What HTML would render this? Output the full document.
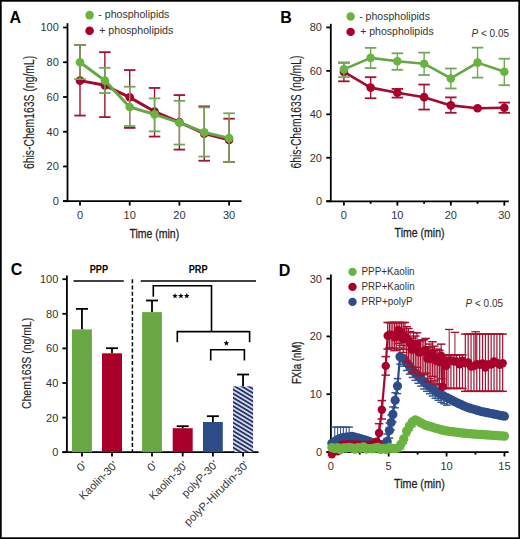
<!DOCTYPE html>
<html><head><meta charset="utf-8"><style>
html,body{margin:0;padding:0;background:#fff;}
body{width:520px;height:539px;overflow:hidden;}
svg{display:block;font-family:"Liberation Sans", sans-serif;}
</style></head><body>
<svg width="520" height="539" viewBox="0 0 520 539">
<rect x="0" y="0" width="520" height="539" fill="#fff"/>
<text x="9.6" y="23.1" font-size="16" fill="#000" font-weight="bold">A</text>
<circle cx="89.6" cy="15.1" r="4.3" fill="#6bb341"/>
<circle cx="89.6" cy="30.8" r="4.3" fill="#a8002b"/>
<text x="98.3" y="18.3" font-size="10.6" fill="#333" textLength="71.1" lengthAdjust="spacingAndGlyphs">- phospholipids</text>
<text x="99.2" y="33.7" font-size="10.6" fill="#333" textLength="74.1" lengthAdjust="spacingAndGlyphs">+ phospholipids</text>
<line x1="67.5" y1="23.2" x2="67.5" y2="202.1" stroke="#000" stroke-width="1.8"/>
<line x1="63.1" y1="201.2" x2="241.6" y2="201.2" stroke="#000" stroke-width="1.8"/>
<line x1="63.1" y1="201.2" x2="67.5" y2="201.2" stroke="#000" stroke-width="1.8"/>
<text x="58.8" y="205.1" font-size="11" fill="#333" text-anchor="end">0</text>
<line x1="63.1" y1="166.46" x2="67.5" y2="166.46" stroke="#000" stroke-width="1.8"/>
<text x="58.8" y="170.36" font-size="11" fill="#333" text-anchor="end">20</text>
<line x1="63.1" y1="131.72" x2="67.5" y2="131.72" stroke="#000" stroke-width="1.8"/>
<text x="58.8" y="135.62" font-size="11" fill="#333" text-anchor="end">40</text>
<line x1="63.1" y1="96.98" x2="67.5" y2="96.98" stroke="#000" stroke-width="1.8"/>
<text x="58.8" y="100.88" font-size="11" fill="#333" text-anchor="end">60</text>
<line x1="63.1" y1="62.24" x2="67.5" y2="62.24" stroke="#000" stroke-width="1.8"/>
<text x="58.8" y="66.14" font-size="11" fill="#333" text-anchor="end">80</text>
<line x1="63.1" y1="27.5" x2="67.5" y2="27.5" stroke="#000" stroke-width="1.8"/>
<text x="58.8" y="31.4" font-size="11" fill="#333" text-anchor="end">100</text>
<line x1="80" y1="201.2" x2="80" y2="205.6" stroke="#000" stroke-width="1.8"/>
<text x="80" y="219.4" font-size="11" fill="#333" text-anchor="middle">0</text>
<line x1="129.7" y1="201.2" x2="129.7" y2="205.6" stroke="#000" stroke-width="1.8"/>
<text x="129.7" y="219.4" font-size="11" fill="#333" text-anchor="middle">10</text>
<line x1="179.4" y1="201.2" x2="179.4" y2="205.6" stroke="#000" stroke-width="1.8"/>
<text x="179.4" y="219.4" font-size="11" fill="#333" text-anchor="middle">20</text>
<line x1="229.1" y1="201.2" x2="229.1" y2="205.6" stroke="#000" stroke-width="1.8"/>
<text x="229.1" y="219.4" font-size="11" fill="#333" text-anchor="middle">30</text>
<text x="129.4" y="237.6" font-size="13.6" fill="#1e1e1e" textLength="49.8" lengthAdjust="spacingAndGlyphs" stroke="#1e1e1e" stroke-width="0.3">Time (min)</text>
<text x="33.5" y="169" font-size="14.3" fill="#1e1e1e" textLength="113.2" lengthAdjust="spacingAndGlyphs" transform="rotate(-90 33.5 169)" stroke="#1e1e1e" stroke-width="0.12">6his-Chem163S (ng/mL)</text>
<line x1="80" y1="115.57" x2="80" y2="45.04" stroke="#a3112f" stroke-width="1.4"/>
<line x1="74.25" y1="115.57" x2="85.75" y2="115.57" stroke="#a3112f" stroke-width="1.8"/>
<line x1="74.25" y1="45.04" x2="85.75" y2="45.04" stroke="#a3112f" stroke-width="1.8"/>
<line x1="104.85" y1="117.13" x2="104.85" y2="52.17" stroke="#a3112f" stroke-width="1.4"/>
<line x1="99.1" y1="117.13" x2="110.6" y2="117.13" stroke="#a3112f" stroke-width="1.8"/>
<line x1="99.1" y1="52.17" x2="110.6" y2="52.17" stroke="#a3112f" stroke-width="1.8"/>
<line x1="129.7" y1="127.9" x2="129.7" y2="70.06" stroke="#a3112f" stroke-width="1.4"/>
<line x1="123.95" y1="127.9" x2="135.45" y2="127.9" stroke="#a3112f" stroke-width="1.8"/>
<line x1="123.95" y1="70.06" x2="135.45" y2="70.06" stroke="#a3112f" stroke-width="1.8"/>
<line x1="154.55" y1="136.58" x2="154.55" y2="87.95" stroke="#a3112f" stroke-width="1.4"/>
<line x1="148.8" y1="136.58" x2="160.3" y2="136.58" stroke="#a3112f" stroke-width="1.8"/>
<line x1="148.8" y1="87.95" x2="160.3" y2="87.95" stroke="#a3112f" stroke-width="1.8"/>
<line x1="179.4" y1="149.61" x2="179.4" y2="95.07" stroke="#a3112f" stroke-width="1.4"/>
<line x1="173.65" y1="149.61" x2="185.15" y2="149.61" stroke="#a3112f" stroke-width="1.8"/>
<line x1="173.65" y1="95.07" x2="185.15" y2="95.07" stroke="#a3112f" stroke-width="1.8"/>
<line x1="204.25" y1="160.73" x2="204.25" y2="106.36" stroke="#a3112f" stroke-width="1.4"/>
<line x1="198.5" y1="160.73" x2="210" y2="160.73" stroke="#a3112f" stroke-width="1.8"/>
<line x1="198.5" y1="106.36" x2="210" y2="106.36" stroke="#a3112f" stroke-width="1.8"/>
<line x1="229.1" y1="161.94" x2="229.1" y2="118.69" stroke="#a3112f" stroke-width="1.4"/>
<line x1="223.35" y1="161.94" x2="234.85" y2="161.94" stroke="#a3112f" stroke-width="1.8"/>
<line x1="223.35" y1="118.69" x2="234.85" y2="118.69" stroke="#a3112f" stroke-width="1.8"/>
<polyline points="80,80.65 104.85,85.34 129.7,97.33 154.55,111.57 179.4,122.17 204.25,133.63 229.1,139.88" fill="none" stroke="#a30a2e" stroke-width="3" stroke-linejoin="round" stroke-linecap="round"/>
<circle cx="80" cy="80.65" r="4.3" fill="#a8002b"/>
<circle cx="104.85" cy="85.34" r="4.3" fill="#a8002b"/>
<circle cx="129.7" cy="97.33" r="4.3" fill="#a8002b"/>
<circle cx="154.55" cy="111.57" r="4.3" fill="#a8002b"/>
<circle cx="179.4" cy="122.17" r="4.3" fill="#a8002b"/>
<circle cx="204.25" cy="133.63" r="4.3" fill="#a8002b"/>
<circle cx="229.1" cy="139.88" r="4.3" fill="#a8002b"/>
<line x1="80" y1="79.09" x2="80" y2="45.04" stroke="#72a65a" stroke-width="1.4"/>
<line x1="74.25" y1="79.09" x2="85.75" y2="79.09" stroke="#72a65a" stroke-width="1.8"/>
<line x1="74.25" y1="45.04" x2="85.75" y2="45.04" stroke="#72a65a" stroke-width="1.8"/>
<line x1="104.85" y1="92.98" x2="104.85" y2="67.8" stroke="#72a65a" stroke-width="1.4"/>
<line x1="99.1" y1="92.98" x2="110.6" y2="92.98" stroke="#72a65a" stroke-width="1.8"/>
<line x1="99.1" y1="67.8" x2="110.6" y2="67.8" stroke="#72a65a" stroke-width="1.8"/>
<line x1="129.7" y1="125.99" x2="129.7" y2="86.73" stroke="#72a65a" stroke-width="1.4"/>
<line x1="123.95" y1="125.99" x2="135.45" y2="125.99" stroke="#72a65a" stroke-width="1.8"/>
<line x1="123.95" y1="86.73" x2="135.45" y2="86.73" stroke="#72a65a" stroke-width="1.8"/>
<line x1="154.55" y1="131.37" x2="154.55" y2="98.37" stroke="#72a65a" stroke-width="1.4"/>
<line x1="148.8" y1="131.37" x2="160.3" y2="131.37" stroke="#72a65a" stroke-width="1.8"/>
<line x1="148.8" y1="98.37" x2="160.3" y2="98.37" stroke="#72a65a" stroke-width="1.8"/>
<line x1="179.4" y1="144.57" x2="179.4" y2="100.8" stroke="#72a65a" stroke-width="1.4"/>
<line x1="173.65" y1="144.57" x2="185.15" y2="144.57" stroke="#72a65a" stroke-width="1.8"/>
<line x1="173.65" y1="100.8" x2="185.15" y2="100.8" stroke="#72a65a" stroke-width="1.8"/>
<line x1="204.25" y1="156.56" x2="204.25" y2="107.4" stroke="#72a65a" stroke-width="1.4"/>
<line x1="198.5" y1="156.56" x2="210" y2="156.56" stroke="#72a65a" stroke-width="1.8"/>
<line x1="198.5" y1="107.4" x2="210" y2="107.4" stroke="#72a65a" stroke-width="1.8"/>
<line x1="229.1" y1="161.94" x2="229.1" y2="113.31" stroke="#72a65a" stroke-width="1.4"/>
<line x1="223.35" y1="161.94" x2="234.85" y2="161.94" stroke="#72a65a" stroke-width="1.8"/>
<line x1="223.35" y1="113.31" x2="234.85" y2="113.31" stroke="#72a65a" stroke-width="1.8"/>
<polyline points="80,62.24 104.85,80.65 129.7,107.05 154.55,114.35 179.4,122.69 204.25,132.41 229.1,138.15" fill="none" stroke="#64a843" stroke-width="3" stroke-linejoin="round" stroke-linecap="round"/>
<circle cx="80" cy="62.24" r="4.3" fill="#6bb341"/>
<circle cx="104.85" cy="80.65" r="4.3" fill="#6bb341"/>
<circle cx="129.7" cy="107.05" r="4.3" fill="#6bb341"/>
<circle cx="154.55" cy="114.35" r="4.3" fill="#6bb341"/>
<circle cx="179.4" cy="122.69" r="4.3" fill="#6bb341"/>
<circle cx="204.25" cy="132.41" r="4.3" fill="#6bb341"/>
<circle cx="229.1" cy="138.15" r="4.3" fill="#6bb341"/>
<text x="280.2" y="23" font-size="16" fill="#000" font-weight="bold">B</text>
<circle cx="350.6" cy="16.5" r="4.2" fill="#6bb341"/>
<circle cx="350.6" cy="31.9" r="4.2" fill="#a8002b"/>
<text x="359.2" y="20" font-size="10.6" fill="#333" textLength="70.8" lengthAdjust="spacingAndGlyphs">- phospholipids</text>
<text x="360.2" y="35.4" font-size="10.6" fill="#333" textLength="73.5" lengthAdjust="spacingAndGlyphs">+ phospholipids</text>
<text x="471.5" y="36.7" font-size="10.5" fill="#333" textLength="37.5" lengthAdjust="spacingAndGlyphs"><tspan font-style="italic">P</tspan> &lt; 0.05</text>
<line x1="330.8" y1="23.8" x2="330.8" y2="202.1" stroke="#000" stroke-width="1.8"/>
<line x1="326.3" y1="201.3" x2="508.8" y2="201.3" stroke="#000" stroke-width="1.8"/>
<line x1="326.3" y1="201.2" x2="330.8" y2="201.2" stroke="#000" stroke-width="1.8"/>
<text x="322" y="205.1" font-size="11" fill="#333" text-anchor="end">0</text>
<line x1="326.3" y1="157.76" x2="330.8" y2="157.76" stroke="#000" stroke-width="1.8"/>
<text x="322" y="161.66" font-size="11" fill="#333" text-anchor="end">20</text>
<line x1="326.3" y1="114.32" x2="330.8" y2="114.32" stroke="#000" stroke-width="1.8"/>
<text x="322" y="118.22" font-size="11" fill="#333" text-anchor="end">40</text>
<line x1="326.3" y1="70.88" x2="330.8" y2="70.88" stroke="#000" stroke-width="1.8"/>
<text x="322" y="74.78" font-size="11" fill="#333" text-anchor="end">60</text>
<line x1="326.3" y1="27.44" x2="330.8" y2="27.44" stroke="#000" stroke-width="1.8"/>
<text x="322" y="31.34" font-size="11" fill="#333" text-anchor="end">80</text>
<line x1="343.9" y1="201.3" x2="343.9" y2="205.6" stroke="#000" stroke-width="1.8"/>
<text x="343.9" y="219.4" font-size="11" fill="#333" text-anchor="middle">0</text>
<line x1="370.63" y1="201.3" x2="370.63" y2="203.8" stroke="#000" stroke-width="1.8"/>
<line x1="397.37" y1="201.3" x2="397.37" y2="205.6" stroke="#000" stroke-width="1.8"/>
<text x="397.37" y="219.4" font-size="11" fill="#333" text-anchor="middle">10</text>
<line x1="424.11" y1="201.3" x2="424.11" y2="203.8" stroke="#000" stroke-width="1.8"/>
<line x1="450.84" y1="201.3" x2="450.84" y2="205.6" stroke="#000" stroke-width="1.8"/>
<text x="450.84" y="219.4" font-size="11" fill="#333" text-anchor="middle">20</text>
<line x1="477.57" y1="201.3" x2="477.57" y2="203.8" stroke="#000" stroke-width="1.8"/>
<line x1="504.31" y1="201.3" x2="504.31" y2="205.6" stroke="#000" stroke-width="1.8"/>
<text x="504.31" y="219.4" font-size="11" fill="#333" text-anchor="middle">30</text>
<text x="394.6" y="237.4" font-size="13.6" fill="#1e1e1e" textLength="49.9" lengthAdjust="spacingAndGlyphs" stroke="#1e1e1e" stroke-width="0.3">Time (min)</text>
<text x="301.3" y="168.6" font-size="14.3" fill="#1e1e1e" textLength="113" lengthAdjust="spacingAndGlyphs" transform="rotate(-90 301.3 168.6)" stroke="#1e1e1e" stroke-width="0.12">6his-Chem163S (ng/mL)</text>
<line x1="343.9" y1="81.31" x2="343.9" y2="62.63" stroke="#a3112f" stroke-width="1.4"/>
<line x1="338.15" y1="81.31" x2="349.65" y2="81.31" stroke="#a3112f" stroke-width="1.8"/>
<line x1="338.15" y1="62.63" x2="349.65" y2="62.63" stroke="#a3112f" stroke-width="1.8"/>
<line x1="370.63" y1="98.25" x2="370.63" y2="77.18" stroke="#a3112f" stroke-width="1.4"/>
<line x1="364.88" y1="98.25" x2="376.38" y2="98.25" stroke="#a3112f" stroke-width="1.8"/>
<line x1="364.88" y1="77.18" x2="376.38" y2="77.18" stroke="#a3112f" stroke-width="1.8"/>
<line x1="397.37" y1="97.6" x2="397.37" y2="88.91" stroke="#a3112f" stroke-width="1.4"/>
<line x1="391.62" y1="97.6" x2="403.12" y2="97.6" stroke="#a3112f" stroke-width="1.8"/>
<line x1="391.62" y1="88.91" x2="403.12" y2="88.91" stroke="#a3112f" stroke-width="1.8"/>
<line x1="424.11" y1="109.54" x2="424.11" y2="84.56" stroke="#a3112f" stroke-width="1.4"/>
<line x1="418.36" y1="109.54" x2="429.86" y2="109.54" stroke="#a3112f" stroke-width="1.8"/>
<line x1="418.36" y1="84.56" x2="429.86" y2="84.56" stroke="#a3112f" stroke-width="1.8"/>
<line x1="450.84" y1="112.8" x2="450.84" y2="97.38" stroke="#a3112f" stroke-width="1.4"/>
<line x1="445.09" y1="112.8" x2="456.59" y2="112.8" stroke="#a3112f" stroke-width="1.8"/>
<line x1="445.09" y1="97.38" x2="456.59" y2="97.38" stroke="#a3112f" stroke-width="1.8"/>
<line x1="477.57" y1="108.24" x2="477.57" y2="108.24" stroke="#a3112f" stroke-width="1.4"/>
<line x1="471.82" y1="108.24" x2="483.32" y2="108.24" stroke="#a3112f" stroke-width="1.8"/>
<line x1="471.82" y1="108.24" x2="483.32" y2="108.24" stroke="#a3112f" stroke-width="1.8"/>
<line x1="504.31" y1="112.8" x2="504.31" y2="102.59" stroke="#a3112f" stroke-width="1.4"/>
<line x1="498.56" y1="112.8" x2="510.06" y2="112.8" stroke="#a3112f" stroke-width="1.8"/>
<line x1="498.56" y1="102.59" x2="510.06" y2="102.59" stroke="#a3112f" stroke-width="1.8"/>
<polyline points="343.9,71.97 370.63,87.6 397.37,92.82 424.11,97.16 450.84,105.41 477.57,108.24 504.31,107.8" fill="none" stroke="#a30a2e" stroke-width="2.6" stroke-linejoin="round" stroke-linecap="round"/>
<circle cx="343.9" cy="71.97" r="4.3" fill="#a8002b"/>
<circle cx="370.63" cy="87.6" r="4.3" fill="#a8002b"/>
<circle cx="397.37" cy="92.82" r="4.3" fill="#a8002b"/>
<circle cx="424.11" cy="97.16" r="4.3" fill="#a8002b"/>
<circle cx="450.84" cy="105.41" r="4.3" fill="#a8002b"/>
<circle cx="477.57" cy="108.24" r="4.3" fill="#a8002b"/>
<circle cx="504.31" cy="107.8" r="4.3" fill="#a8002b"/>
<line x1="343.9" y1="77.18" x2="343.9" y2="62.63" stroke="#72a65a" stroke-width="1.4"/>
<line x1="338.15" y1="77.18" x2="349.65" y2="77.18" stroke="#72a65a" stroke-width="1.8"/>
<line x1="338.15" y1="62.63" x2="349.65" y2="62.63" stroke="#72a65a" stroke-width="1.8"/>
<line x1="370.63" y1="68.06" x2="370.63" y2="47.86" stroke="#72a65a" stroke-width="1.4"/>
<line x1="364.88" y1="68.06" x2="376.38" y2="68.06" stroke="#72a65a" stroke-width="1.8"/>
<line x1="364.88" y1="47.86" x2="376.38" y2="47.86" stroke="#72a65a" stroke-width="1.8"/>
<line x1="397.37" y1="69.79" x2="397.37" y2="53.29" stroke="#72a65a" stroke-width="1.4"/>
<line x1="391.62" y1="69.79" x2="403.12" y2="69.79" stroke="#72a65a" stroke-width="1.8"/>
<line x1="391.62" y1="53.29" x2="403.12" y2="53.29" stroke="#72a65a" stroke-width="1.8"/>
<line x1="424.11" y1="75.01" x2="424.11" y2="52.64" stroke="#72a65a" stroke-width="1.4"/>
<line x1="418.36" y1="75.01" x2="429.86" y2="75.01" stroke="#72a65a" stroke-width="1.8"/>
<line x1="418.36" y1="52.64" x2="429.86" y2="52.64" stroke="#72a65a" stroke-width="1.8"/>
<line x1="450.84" y1="88.47" x2="450.84" y2="68.49" stroke="#72a65a" stroke-width="1.4"/>
<line x1="445.09" y1="88.47" x2="456.59" y2="88.47" stroke="#72a65a" stroke-width="1.8"/>
<line x1="445.09" y1="68.49" x2="456.59" y2="68.49" stroke="#72a65a" stroke-width="1.8"/>
<line x1="477.57" y1="77.61" x2="477.57" y2="47.64" stroke="#72a65a" stroke-width="1.4"/>
<line x1="471.82" y1="77.61" x2="483.32" y2="77.61" stroke="#72a65a" stroke-width="1.8"/>
<line x1="471.82" y1="47.64" x2="483.32" y2="47.64" stroke="#72a65a" stroke-width="1.8"/>
<line x1="504.31" y1="85.22" x2="504.31" y2="58.72" stroke="#72a65a" stroke-width="1.4"/>
<line x1="498.56" y1="85.22" x2="510.06" y2="85.22" stroke="#72a65a" stroke-width="1.8"/>
<line x1="498.56" y1="58.72" x2="510.06" y2="58.72" stroke="#72a65a" stroke-width="1.8"/>
<polyline points="343.9,69.36 370.63,57.85 397.37,61.32 424.11,63.71 450.84,78.48 477.57,62.63 504.31,71.75" fill="none" stroke="#64a843" stroke-width="2.6" stroke-linejoin="round" stroke-linecap="round"/>
<circle cx="343.9" cy="69.36" r="4.3" fill="#6bb341"/>
<circle cx="370.63" cy="57.85" r="4.3" fill="#6bb341"/>
<circle cx="397.37" cy="61.32" r="4.3" fill="#6bb341"/>
<circle cx="424.11" cy="63.71" r="4.3" fill="#6bb341"/>
<circle cx="450.84" cy="78.48" r="4.3" fill="#6bb341"/>
<circle cx="477.57" cy="62.63" r="4.3" fill="#6bb341"/>
<circle cx="504.31" cy="71.75" r="4.3" fill="#6bb341"/>
<text x="10.8" y="275.3" font-size="16" fill="#000" font-weight="bold">C</text>
<text x="89.7" y="272.5" font-size="10.3" fill="#000" textLength="18.4" lengthAdjust="spacingAndGlyphs" font-weight="bold">PPP</text>
<text x="188.7" y="272.5" font-size="10.3" fill="#000" textLength="18.9" lengthAdjust="spacingAndGlyphs" font-weight="bold">PRP</text>
<line x1="73.5" y1="281.1" x2="123.8" y2="281.1" stroke="#000" stroke-width="1.5"/>
<line x1="140.8" y1="281.1" x2="256" y2="281.1" stroke="#000" stroke-width="1.5"/>
<line x1="132.4" y1="279.2" x2="132.4" y2="452.3" stroke="#000" stroke-width="1.5" stroke-dasharray="4,2.3"/>
<line x1="66.9" y1="275.5" x2="66.9" y2="453.1" stroke="#000" stroke-width="1.8"/>
<line x1="62.4" y1="452.1" x2="258.5" y2="452.1" stroke="#000" stroke-width="1.8"/>
<line x1="62.4" y1="452.2" x2="66.9" y2="452.2" stroke="#000" stroke-width="1.8"/>
<text x="58.3" y="456.1" font-size="11" fill="#333" text-anchor="end">0</text>
<line x1="62.4" y1="417.6" x2="66.9" y2="417.6" stroke="#000" stroke-width="1.8"/>
<text x="58.3" y="421.5" font-size="11" fill="#333" text-anchor="end">20</text>
<line x1="62.4" y1="383" x2="66.9" y2="383" stroke="#000" stroke-width="1.8"/>
<text x="58.3" y="386.9" font-size="11" fill="#333" text-anchor="end">40</text>
<line x1="62.4" y1="348.4" x2="66.9" y2="348.4" stroke="#000" stroke-width="1.8"/>
<text x="58.3" y="352.3" font-size="11" fill="#333" text-anchor="end">60</text>
<line x1="62.4" y1="313.8" x2="66.9" y2="313.8" stroke="#000" stroke-width="1.8"/>
<text x="58.3" y="317.7" font-size="11" fill="#333" text-anchor="end">80</text>
<line x1="62.4" y1="279.2" x2="66.9" y2="279.2" stroke="#000" stroke-width="1.8"/>
<text x="58.3" y="283.1" font-size="11" fill="#333" text-anchor="end">100</text>
<text x="31" y="409" font-size="13.2" fill="#1e1e1e" textLength="91.2" lengthAdjust="spacingAndGlyphs" transform="rotate(-90 31 409)" stroke="#1e1e1e" stroke-width="0.12">Chem163S (ng/mL)</text>
<defs><pattern id="hatch" patternUnits="userSpaceOnUse" width="10" height="3.56" patternTransform="rotate(31 233 386)"><rect width="10" height="3.56" fill="#d2d8f2"/><rect width="10" height="1.65" fill="#1c2754"/></pattern></defs>
<line x1="81.95" y1="308.9" x2="81.95" y2="329.4" stroke="#000" stroke-width="1.8"/>
<line x1="75.95" y1="308.9" x2="87.95" y2="308.9" stroke="#000" stroke-width="1.8"/>
<rect x="72" y="329.4" width="19.9" height="122.8" fill="#69a744"/>
<line x1="112" y1="348.2" x2="112" y2="353.3" stroke="#000" stroke-width="1.8"/>
<line x1="106" y1="348.2" x2="118" y2="348.2" stroke="#000" stroke-width="1.8"/>
<rect x="102" y="353.3" width="20" height="98.9" fill="#a8002b"/>
<line x1="152" y1="300.5" x2="152" y2="312.1" stroke="#000" stroke-width="1.8"/>
<line x1="146" y1="300.5" x2="158" y2="300.5" stroke="#000" stroke-width="1.8"/>
<rect x="142.1" y="312.1" width="19.8" height="140.1" fill="#69a744"/>
<line x1="182.7" y1="426.2" x2="182.7" y2="428.2" stroke="#000" stroke-width="1.8"/>
<line x1="176.7" y1="426.2" x2="188.7" y2="426.2" stroke="#000" stroke-width="1.8"/>
<rect x="172.7" y="428.2" width="20" height="24" fill="#a8002b"/>
<line x1="212.9" y1="416.2" x2="212.9" y2="422" stroke="#000" stroke-width="1.8"/>
<line x1="206.9" y1="416.2" x2="218.9" y2="416.2" stroke="#000" stroke-width="1.8"/>
<rect x="203" y="422" width="19.8" height="30.2" fill="#2d4c88"/>
<line x1="243.05" y1="374.5" x2="243.05" y2="386.3" stroke="#000" stroke-width="1.8"/>
<line x1="237.05" y1="374.5" x2="249.05" y2="374.5" stroke="#000" stroke-width="1.8"/>
<rect x="233" y="386.3" width="20.1" height="65.9" fill="url(#hatch)"/>
<line x1="81.95" y1="452.2" x2="81.95" y2="456.4" stroke="#000" stroke-width="1.8"/>
<line x1="112" y1="452.2" x2="112" y2="456.4" stroke="#000" stroke-width="1.8"/>
<line x1="152" y1="452.2" x2="152" y2="456.4" stroke="#000" stroke-width="1.8"/>
<line x1="182.7" y1="452.2" x2="182.7" y2="456.4" stroke="#000" stroke-width="1.8"/>
<line x1="212.9" y1="452.2" x2="212.9" y2="456.4" stroke="#000" stroke-width="1.8"/>
<line x1="243.05" y1="452.2" x2="243.05" y2="456.4" stroke="#000" stroke-width="1.8"/>
<polyline points="153.3,296.7 153.3,285.7 211.5,285.7 211.5,331.6" fill="none" stroke="#000" stroke-width="1.6"/>
<polyline points="177.3,342.3 177.3,331.6 249.6,331.6 249.6,342.3" fill="none" stroke="#000" stroke-width="1.6"/>
<polyline points="210.7,360.4 210.7,349.7 244.4,349.7 244.4,360.4" fill="none" stroke="#000" stroke-width="1.6"/>
<polygon points="175,292.9 175.74,294.88 177.85,294.97 176.2,296.29 176.76,298.33 175,297.16 173.24,298.33 173.8,296.29 172.15,294.97 174.26,294.88" fill="#000"/>
<polygon points="180.9,292.9 181.64,294.88 183.75,294.97 182.1,296.29 182.66,298.33 180.9,297.16 179.14,298.33 179.7,296.29 178.05,294.97 180.16,294.88" fill="#000"/>
<polygon points="186.8,292.9 187.54,294.88 189.65,294.97 188,296.29 188.56,298.33 186.8,297.16 185.04,298.33 185.6,296.29 183.95,294.97 186.06,294.88" fill="#000"/>
<polygon points="226.4,340.3 227.14,342.28 229.25,342.37 227.6,343.69 228.16,345.73 226.4,344.56 224.64,345.73 225.2,343.69 223.55,342.37 225.66,342.28" fill="#000"/>
<text x="87.6" y="465.5" font-size="11" fill="#333" textLength="9.5" lengthAdjust="spacingAndGlyphs" text-anchor="end" transform="rotate(-45 87.6 465.5)">0'</text>
<text x="118.2" y="465.8" font-size="11" fill="#333" textLength="49" lengthAdjust="spacingAndGlyphs" text-anchor="end" transform="rotate(-45 118.2 465.8)">Kaolin-30'</text>
<text x="158.3" y="465.5" font-size="11" fill="#333" textLength="9.5" lengthAdjust="spacingAndGlyphs" text-anchor="end" transform="rotate(-45 158.3 465.5)">0'</text>
<text x="188.2" y="465.8" font-size="11" fill="#333" textLength="49" lengthAdjust="spacingAndGlyphs" text-anchor="end" transform="rotate(-45 188.2 465.8)">Kaolin-30'</text>
<text x="218.8" y="465.1" font-size="11" fill="#333" textLength="46.4" lengthAdjust="spacingAndGlyphs" text-anchor="end" transform="rotate(-45 218.8 465.1)">polyP-30'</text>
<text x="249.4" y="465.6" font-size="11" fill="#333" textLength="86" lengthAdjust="spacingAndGlyphs" text-anchor="end" transform="rotate(-45 249.4 465.6)">polyP-Hirudin-30'</text>
<text x="278.8" y="275.6" font-size="16" fill="#000" font-weight="bold">D</text>
<circle cx="352.5" cy="271.9" r="4.2" fill="#6bb341"/>
<circle cx="352.5" cy="286.9" r="4.2" fill="#a8002b"/>
<circle cx="352.5" cy="301.9" r="4.2" fill="#2d4c88"/>
<text x="361.5" y="275" font-size="10" fill="#333" textLength="53.1" lengthAdjust="spacingAndGlyphs">PPP+Kaolin</text>
<text x="361.5" y="290.2" font-size="10" fill="#333" textLength="53.1" lengthAdjust="spacingAndGlyphs">PRP+Kaolin</text>
<text x="361.5" y="305.2" font-size="10" fill="#333" textLength="51.2" lengthAdjust="spacingAndGlyphs">PRP+polyP</text>
<text x="465.6" y="306.7" font-size="10.5" fill="#333" textLength="37.4" lengthAdjust="spacingAndGlyphs"><tspan font-style="italic">P</tspan> &lt; 0.05</text>
<line x1="330.9" y1="274.4" x2="330.9" y2="453" stroke="#000" stroke-width="1.8"/>
<line x1="326.5" y1="452.1" x2="508.7" y2="452.1" stroke="#000" stroke-width="1.8"/>
<line x1="326.5" y1="452" x2="330.9" y2="452" stroke="#000" stroke-width="1.8"/>
<text x="322" y="455.9" font-size="11" fill="#333" text-anchor="end">0</text>
<line x1="326.5" y1="394.2" x2="330.9" y2="394.2" stroke="#000" stroke-width="1.8"/>
<text x="322" y="398.1" font-size="11" fill="#333" text-anchor="end">10</text>
<line x1="326.5" y1="336.4" x2="330.9" y2="336.4" stroke="#000" stroke-width="1.8"/>
<text x="322" y="340.3" font-size="11" fill="#333" text-anchor="end">20</text>
<line x1="326.5" y1="278.6" x2="330.9" y2="278.6" stroke="#000" stroke-width="1.8"/>
<text x="322" y="282.5" font-size="11" fill="#333" text-anchor="end">30</text>
<line x1="330.8" y1="452.1" x2="330.8" y2="456.5" stroke="#000" stroke-width="1.8"/>
<text x="330.8" y="470" font-size="11" fill="#333" text-anchor="middle">0</text>
<line x1="359.74" y1="452.1" x2="359.74" y2="454.6" stroke="#000" stroke-width="1.8"/>
<line x1="388.68" y1="452.1" x2="388.68" y2="456.5" stroke="#000" stroke-width="1.8"/>
<text x="388.68" y="470" font-size="11" fill="#333" text-anchor="middle">5</text>
<line x1="417.61" y1="452.1" x2="417.61" y2="454.6" stroke="#000" stroke-width="1.8"/>
<line x1="446.55" y1="452.1" x2="446.55" y2="456.5" stroke="#000" stroke-width="1.8"/>
<text x="446.55" y="470" font-size="11" fill="#333" text-anchor="middle">10</text>
<line x1="475.49" y1="452.1" x2="475.49" y2="454.6" stroke="#000" stroke-width="1.8"/>
<line x1="504.43" y1="452.1" x2="504.43" y2="456.5" stroke="#000" stroke-width="1.8"/>
<text x="504.43" y="470" font-size="11" fill="#333" text-anchor="middle">15</text>
<text x="394" y="488.2" font-size="13.6" fill="#1e1e1e" textLength="50.7" lengthAdjust="spacingAndGlyphs" stroke="#1e1e1e" stroke-width="0.3">Time (min)</text>
<text x="301.4" y="384" font-size="12.3" fill="#1e1e1e" textLength="42.4" lengthAdjust="spacingAndGlyphs" transform="rotate(-90 301.4 384)" stroke="#1e1e1e" stroke-width="0.3">FXIa (nM)</text>
<line x1="334.77" y1="446.61" x2="334.77" y2="427.15" stroke="#3a5590" stroke-width="1.1"/>
<line x1="331.02" y1="446.61" x2="338.52" y2="446.61" stroke="#3a5590" stroke-width="1.5"/>
<line x1="331.02" y1="427.15" x2="338.52" y2="427.15" stroke="#3a5590" stroke-width="1.5"/>
<line x1="337.65" y1="444.68" x2="337.65" y2="427.15" stroke="#3a5590" stroke-width="1.1"/>
<line x1="333.9" y1="444.68" x2="341.4" y2="444.68" stroke="#3a5590" stroke-width="1.5"/>
<line x1="333.9" y1="427.15" x2="341.4" y2="427.15" stroke="#3a5590" stroke-width="1.5"/>
<line x1="340.52" y1="443.47" x2="340.52" y2="427.15" stroke="#3a5590" stroke-width="1.1"/>
<line x1="336.77" y1="443.47" x2="344.27" y2="443.47" stroke="#3a5590" stroke-width="1.5"/>
<line x1="336.77" y1="427.15" x2="344.27" y2="427.15" stroke="#3a5590" stroke-width="1.5"/>
<line x1="343.4" y1="442.75" x2="343.4" y2="427.15" stroke="#3a5590" stroke-width="1.1"/>
<line x1="339.65" y1="442.75" x2="347.15" y2="442.75" stroke="#3a5590" stroke-width="1.5"/>
<line x1="339.65" y1="427.15" x2="347.15" y2="427.15" stroke="#3a5590" stroke-width="1.5"/>
<line x1="346.27" y1="442.37" x2="346.27" y2="427.15" stroke="#3a5590" stroke-width="1.1"/>
<line x1="342.52" y1="442.37" x2="350.02" y2="442.37" stroke="#3a5590" stroke-width="1.5"/>
<line x1="342.52" y1="427.15" x2="350.02" y2="427.15" stroke="#3a5590" stroke-width="1.5"/>
<line x1="349.15" y1="441.98" x2="349.15" y2="427.15" stroke="#3a5590" stroke-width="1.1"/>
<line x1="345.4" y1="441.98" x2="352.9" y2="441.98" stroke="#3a5590" stroke-width="1.5"/>
<line x1="345.4" y1="427.15" x2="352.9" y2="427.15" stroke="#3a5590" stroke-width="1.5"/>
<line x1="387.1" y1="449.11" x2="387.1" y2="434.08" stroke="#3a5590" stroke-width="1.1"/>
<line x1="383.35" y1="449.11" x2="390.85" y2="449.11" stroke="#3a5590" stroke-width="1.5"/>
<line x1="383.35" y1="434.08" x2="390.85" y2="434.08" stroke="#3a5590" stroke-width="1.5"/>
<line x1="389.4" y1="438.13" x2="389.4" y2="423.1" stroke="#3a5590" stroke-width="1.1"/>
<line x1="385.65" y1="438.13" x2="393.15" y2="438.13" stroke="#3a5590" stroke-width="1.5"/>
<line x1="385.65" y1="423.1" x2="393.15" y2="423.1" stroke="#3a5590" stroke-width="1.5"/>
<line x1="391.12" y1="430.04" x2="391.12" y2="415.01" stroke="#3a5590" stroke-width="1.1"/>
<line x1="387.38" y1="430.04" x2="394.88" y2="430.04" stroke="#3a5590" stroke-width="1.5"/>
<line x1="387.38" y1="415.01" x2="394.88" y2="415.01" stroke="#3a5590" stroke-width="1.5"/>
<line x1="392.85" y1="421.94" x2="392.85" y2="406.92" stroke="#3a5590" stroke-width="1.1"/>
<line x1="389.1" y1="421.94" x2="396.6" y2="421.94" stroke="#3a5590" stroke-width="1.5"/>
<line x1="389.1" y1="406.92" x2="396.6" y2="406.92" stroke="#3a5590" stroke-width="1.5"/>
<line x1="395.15" y1="407.78" x2="395.15" y2="392.75" stroke="#3a5590" stroke-width="1.1"/>
<line x1="391.4" y1="407.78" x2="398.9" y2="407.78" stroke="#3a5590" stroke-width="1.5"/>
<line x1="391.4" y1="392.75" x2="398.9" y2="392.75" stroke="#3a5590" stroke-width="1.5"/>
<line x1="397.45" y1="393.62" x2="397.45" y2="378.59" stroke="#3a5590" stroke-width="1.1"/>
<line x1="393.7" y1="393.62" x2="401.2" y2="393.62" stroke="#3a5590" stroke-width="1.5"/>
<line x1="393.7" y1="378.59" x2="401.2" y2="378.59" stroke="#3a5590" stroke-width="1.5"/>
<line x1="399.98" y1="364.14" x2="399.98" y2="349.12" stroke="#3a5590" stroke-width="1.1"/>
<line x1="396.23" y1="364.14" x2="403.73" y2="364.14" stroke="#3a5590" stroke-width="1.5"/>
<line x1="396.23" y1="349.12" x2="403.73" y2="349.12" stroke="#3a5590" stroke-width="1.5"/>
<line x1="403.77" y1="366.17" x2="403.77" y2="358.65" stroke="#3a5590" stroke-width="1.1"/>
<line x1="400.02" y1="366.17" x2="407.52" y2="366.17" stroke="#3a5590" stroke-width="1.5"/>
<line x1="406.65" y1="370.5" x2="406.65" y2="362.99" stroke="#3a5590" stroke-width="1.1"/>
<line x1="402.9" y1="370.5" x2="410.4" y2="370.5" stroke="#3a5590" stroke-width="1.5"/>
<line x1="409.52" y1="374.11" x2="409.52" y2="366.6" stroke="#3a5590" stroke-width="1.1"/>
<line x1="405.77" y1="374.11" x2="413.27" y2="374.11" stroke="#3a5590" stroke-width="1.5"/>
<line x1="412.4" y1="377.44" x2="412.4" y2="369.92" stroke="#3a5590" stroke-width="1.1"/>
<line x1="408.65" y1="377.44" x2="416.15" y2="377.44" stroke="#3a5590" stroke-width="1.5"/>
<line x1="415.27" y1="380.33" x2="415.27" y2="372.81" stroke="#3a5590" stroke-width="1.1"/>
<line x1="411.52" y1="380.33" x2="419.02" y2="380.33" stroke="#3a5590" stroke-width="1.5"/>
<line x1="418.15" y1="383.22" x2="418.15" y2="375.7" stroke="#3a5590" stroke-width="1.1"/>
<line x1="414.4" y1="383.22" x2="421.9" y2="383.22" stroke="#3a5590" stroke-width="1.5"/>
<line x1="421.02" y1="386.11" x2="421.02" y2="378.59" stroke="#3a5590" stroke-width="1.1"/>
<line x1="417.27" y1="386.11" x2="424.77" y2="386.11" stroke="#3a5590" stroke-width="1.5"/>
<line x1="423.9" y1="389" x2="423.9" y2="381.48" stroke="#3a5590" stroke-width="1.1"/>
<line x1="420.15" y1="389" x2="427.65" y2="389" stroke="#3a5590" stroke-width="1.5"/>
<line x1="426.77" y1="391.33" x2="426.77" y2="383.81" stroke="#3a5590" stroke-width="1.1"/>
<line x1="423.02" y1="391.33" x2="430.52" y2="391.33" stroke="#3a5590" stroke-width="1.5"/>
<line x1="429.65" y1="393.66" x2="429.65" y2="386.15" stroke="#3a5590" stroke-width="1.1"/>
<line x1="425.9" y1="393.66" x2="433.4" y2="393.66" stroke="#3a5590" stroke-width="1.5"/>
<line x1="432.52" y1="395.99" x2="432.52" y2="388.48" stroke="#3a5590" stroke-width="1.1"/>
<line x1="428.77" y1="395.99" x2="436.27" y2="395.99" stroke="#3a5590" stroke-width="1.5"/>
<line x1="435.4" y1="398.24" x2="435.4" y2="390.72" stroke="#3a5590" stroke-width="1.1"/>
<line x1="431.65" y1="398.24" x2="439.15" y2="398.24" stroke="#3a5590" stroke-width="1.5"/>
<line x1="438.27" y1="400.26" x2="438.27" y2="392.75" stroke="#3a5590" stroke-width="1.1"/>
<line x1="434.52" y1="400.26" x2="442.02" y2="400.26" stroke="#3a5590" stroke-width="1.5"/>
<line x1="441.15" y1="402.29" x2="441.15" y2="394.78" stroke="#3a5590" stroke-width="1.1"/>
<line x1="437.4" y1="402.29" x2="444.9" y2="402.29" stroke="#3a5590" stroke-width="1.5"/>
<line x1="444.02" y1="403.74" x2="444.02" y2="396.22" stroke="#3a5590" stroke-width="1.1"/>
<line x1="440.27" y1="403.74" x2="447.77" y2="403.74" stroke="#3a5590" stroke-width="1.5"/>
<line x1="446.9" y1="405.18" x2="446.9" y2="397.67" stroke="#3a5590" stroke-width="1.1"/>
<line x1="443.15" y1="405.18" x2="450.65" y2="405.18" stroke="#3a5590" stroke-width="1.5"/>
<polyline points="331.9,443.33 334.77,441.4 337.65,439.48 340.52,438.27 343.4,437.55 346.27,437.16 349.15,436.78 352.02,436.39 354.9,437.16 357.77,437.94 360.65,438.71 363.52,439.57 366.4,440.44 369.27,441.47 372.15,442.5 375.02,443.44 377.9,443.98 380.77,444.52 383.65,445.06 386.52,442.17 387.1,441.6 389.4,430.61 391.12,422.52 392.85,414.43 395.15,400.27 397.45,386.11 399.98,356.63 403.77,358.65 406.65,362.99 409.52,366.6 412.4,369.92 415.27,372.81 418.15,375.7 421.02,378.59 423.9,381.48 426.77,383.81 429.65,386.15 432.52,388.48 435.4,390.72 438.27,392.75 441.15,394.78 444.02,396.22 446.9,397.67 449.77,399.11 452.65,400.56 455.52,402 458.4,403.45 461.27,404.71 464.15,405.98 467.02,407.24 469.9,408.17 472.77,409.01 475.65,409.85 478.52,410.7 481.4,411.54 484.27,412.12 487.15,412.7 490.02,413.27 492.9,413.85 495.77,414.47 498.65,415.09 501.52,415.68 504.4,416.16" fill="none" stroke="#2d4c88" stroke-width="2.2" stroke-linejoin="round" stroke-linecap="round"/>
<circle cx="331.9" cy="443.33" r="4.6" fill="#2d4c88"/>
<circle cx="334.77" cy="441.4" r="4.6" fill="#2d4c88"/>
<circle cx="337.65" cy="439.48" r="4.6" fill="#2d4c88"/>
<circle cx="340.52" cy="438.27" r="4.6" fill="#2d4c88"/>
<circle cx="343.4" cy="437.55" r="4.6" fill="#2d4c88"/>
<circle cx="346.27" cy="437.16" r="4.6" fill="#2d4c88"/>
<circle cx="349.15" cy="436.78" r="4.6" fill="#2d4c88"/>
<circle cx="352.02" cy="436.39" r="4.6" fill="#2d4c88"/>
<circle cx="354.9" cy="437.16" r="4.6" fill="#2d4c88"/>
<circle cx="357.77" cy="437.94" r="4.6" fill="#2d4c88"/>
<circle cx="360.65" cy="438.71" r="4.6" fill="#2d4c88"/>
<circle cx="363.52" cy="439.57" r="4.6" fill="#2d4c88"/>
<circle cx="366.4" cy="440.44" r="4.6" fill="#2d4c88"/>
<circle cx="369.27" cy="441.47" r="4.6" fill="#2d4c88"/>
<circle cx="372.15" cy="442.5" r="4.6" fill="#2d4c88"/>
<circle cx="375.02" cy="443.44" r="4.6" fill="#2d4c88"/>
<circle cx="377.9" cy="443.98" r="4.6" fill="#2d4c88"/>
<circle cx="380.77" cy="444.52" r="4.6" fill="#2d4c88"/>
<circle cx="383.65" cy="445.06" r="4.6" fill="#2d4c88"/>
<circle cx="386.52" cy="442.17" r="4.6" fill="#2d4c88"/>
<circle cx="387.1" cy="441.6" r="4.6" fill="#2d4c88"/>
<circle cx="389.4" cy="430.61" r="4.6" fill="#2d4c88"/>
<circle cx="391.12" cy="422.52" r="4.6" fill="#2d4c88"/>
<circle cx="392.85" cy="414.43" r="4.6" fill="#2d4c88"/>
<circle cx="395.15" cy="400.27" r="4.6" fill="#2d4c88"/>
<circle cx="397.45" cy="386.11" r="4.6" fill="#2d4c88"/>
<circle cx="399.98" cy="356.63" r="4.6" fill="#2d4c88"/>
<circle cx="403.77" cy="358.65" r="4.6" fill="#2d4c88"/>
<circle cx="406.65" cy="362.99" r="4.6" fill="#2d4c88"/>
<circle cx="409.52" cy="366.6" r="4.6" fill="#2d4c88"/>
<circle cx="412.4" cy="369.92" r="4.6" fill="#2d4c88"/>
<circle cx="415.27" cy="372.81" r="4.6" fill="#2d4c88"/>
<circle cx="418.15" cy="375.7" r="4.6" fill="#2d4c88"/>
<circle cx="421.02" cy="378.59" r="4.6" fill="#2d4c88"/>
<circle cx="423.9" cy="381.48" r="4.6" fill="#2d4c88"/>
<circle cx="426.77" cy="383.81" r="4.6" fill="#2d4c88"/>
<circle cx="429.65" cy="386.15" r="4.6" fill="#2d4c88"/>
<circle cx="432.52" cy="388.48" r="4.6" fill="#2d4c88"/>
<circle cx="435.4" cy="390.72" r="4.6" fill="#2d4c88"/>
<circle cx="438.27" cy="392.75" r="4.6" fill="#2d4c88"/>
<circle cx="441.15" cy="394.78" r="4.6" fill="#2d4c88"/>
<circle cx="444.02" cy="396.22" r="4.6" fill="#2d4c88"/>
<circle cx="446.9" cy="397.67" r="4.6" fill="#2d4c88"/>
<circle cx="449.77" cy="399.11" r="4.6" fill="#2d4c88"/>
<circle cx="452.65" cy="400.56" r="4.6" fill="#2d4c88"/>
<circle cx="455.52" cy="402" r="4.6" fill="#2d4c88"/>
<circle cx="458.4" cy="403.45" r="4.6" fill="#2d4c88"/>
<circle cx="461.27" cy="404.71" r="4.6" fill="#2d4c88"/>
<circle cx="464.15" cy="405.98" r="4.6" fill="#2d4c88"/>
<circle cx="467.02" cy="407.24" r="4.6" fill="#2d4c88"/>
<circle cx="469.9" cy="408.17" r="4.6" fill="#2d4c88"/>
<circle cx="472.77" cy="409.01" r="4.6" fill="#2d4c88"/>
<circle cx="475.65" cy="409.85" r="4.6" fill="#2d4c88"/>
<circle cx="478.52" cy="410.7" r="4.6" fill="#2d4c88"/>
<circle cx="481.4" cy="411.54" r="4.6" fill="#2d4c88"/>
<circle cx="484.27" cy="412.12" r="4.6" fill="#2d4c88"/>
<circle cx="487.15" cy="412.7" r="4.6" fill="#2d4c88"/>
<circle cx="490.02" cy="413.27" r="4.6" fill="#2d4c88"/>
<circle cx="492.9" cy="413.85" r="4.6" fill="#2d4c88"/>
<circle cx="495.77" cy="414.47" r="4.6" fill="#2d4c88"/>
<circle cx="498.65" cy="415.09" r="4.6" fill="#2d4c88"/>
<circle cx="501.52" cy="415.68" r="4.6" fill="#2d4c88"/>
<circle cx="504.4" cy="416.16" r="4.6" fill="#2d4c88"/>
<line x1="449.2" y1="362.41" x2="449.2" y2="329.46" stroke="#a3112f" stroke-width="1"/>
<line x1="444.95" y1="329.46" x2="453.45" y2="329.46" stroke="#a3112f" stroke-width="1.3"/>
<line x1="454.95" y1="362.41" x2="454.95" y2="332.35" stroke="#a3112f" stroke-width="1"/>
<line x1="450.7" y1="332.35" x2="459.2" y2="332.35" stroke="#a3112f" stroke-width="1.3"/>
<line x1="475.65" y1="362.41" x2="475.65" y2="331.78" stroke="#a3112f" stroke-width="1"/>
<line x1="471.4" y1="331.78" x2="479.9" y2="331.78" stroke="#a3112f" stroke-width="1.3"/>
<line x1="379.05" y1="442.17" x2="379.05" y2="423.68" stroke="#a3112f" stroke-width="1.2"/>
<line x1="374.8" y1="442.17" x2="383.3" y2="442.17" stroke="#a3112f" stroke-width="1.5"/>
<line x1="374.8" y1="423.68" x2="383.3" y2="423.68" stroke="#a3112f" stroke-width="1.5"/>
<line x1="381.81" y1="419.05" x2="381.81" y2="400.56" stroke="#a3112f" stroke-width="1.2"/>
<line x1="377.56" y1="419.05" x2="386.06" y2="419.05" stroke="#a3112f" stroke-width="1.5"/>
<line x1="377.56" y1="400.56" x2="386.06" y2="400.56" stroke="#a3112f" stroke-width="1.5"/>
<line x1="385.72" y1="375.13" x2="385.72" y2="356.63" stroke="#a3112f" stroke-width="1.2"/>
<line x1="381.47" y1="375.13" x2="389.97" y2="375.13" stroke="#a3112f" stroke-width="1.5"/>
<line x1="381.47" y1="356.63" x2="389.97" y2="356.63" stroke="#a3112f" stroke-width="1.5"/>
<line x1="387.67" y1="349.12" x2="387.67" y2="322.53" stroke="#a3112f" stroke-width="1.2"/>
<line x1="383.42" y1="349.12" x2="391.92" y2="349.12" stroke="#a3112f" stroke-width="1.5"/>
<line x1="383.42" y1="322.53" x2="391.92" y2="322.53" stroke="#a3112f" stroke-width="1.5"/>
<line x1="389.4" y1="347.96" x2="389.4" y2="322.53" stroke="#a3112f" stroke-width="1.2"/>
<line x1="385.15" y1="347.96" x2="393.65" y2="347.96" stroke="#a3112f" stroke-width="1.5"/>
<line x1="385.15" y1="322.53" x2="393.65" y2="322.53" stroke="#a3112f" stroke-width="1.5"/>
<line x1="391.12" y1="348.13" x2="391.12" y2="322.53" stroke="#a3112f" stroke-width="1.2"/>
<line x1="386.88" y1="348.13" x2="395.38" y2="348.13" stroke="#a3112f" stroke-width="1.5"/>
<line x1="386.88" y1="322.53" x2="395.38" y2="322.53" stroke="#a3112f" stroke-width="1.5"/>
<line x1="392.85" y1="348.66" x2="392.85" y2="322.53" stroke="#a3112f" stroke-width="1.2"/>
<line x1="388.6" y1="348.66" x2="397.1" y2="348.66" stroke="#a3112f" stroke-width="1.5"/>
<line x1="388.6" y1="322.53" x2="397.1" y2="322.53" stroke="#a3112f" stroke-width="1.5"/>
<line x1="394.57" y1="350.6" x2="394.57" y2="322.53" stroke="#a3112f" stroke-width="1.2"/>
<line x1="390.32" y1="350.6" x2="398.82" y2="350.6" stroke="#a3112f" stroke-width="1.5"/>
<line x1="390.32" y1="322.53" x2="398.82" y2="322.53" stroke="#a3112f" stroke-width="1.5"/>
<line x1="396.3" y1="350.35" x2="396.3" y2="322.53" stroke="#a3112f" stroke-width="1.2"/>
<line x1="392.05" y1="350.35" x2="400.55" y2="350.35" stroke="#a3112f" stroke-width="1.5"/>
<line x1="392.05" y1="322.53" x2="400.55" y2="322.53" stroke="#a3112f" stroke-width="1.5"/>
<line x1="398.02" y1="343.54" x2="398.02" y2="322.53" stroke="#a3112f" stroke-width="1.2"/>
<line x1="393.77" y1="343.54" x2="402.27" y2="343.54" stroke="#a3112f" stroke-width="1.5"/>
<line x1="393.77" y1="322.53" x2="402.27" y2="322.53" stroke="#a3112f" stroke-width="1.5"/>
<line x1="399.75" y1="348.03" x2="399.75" y2="322.53" stroke="#a3112f" stroke-width="1.2"/>
<line x1="395.5" y1="348.03" x2="404" y2="348.03" stroke="#a3112f" stroke-width="1.5"/>
<line x1="395.5" y1="322.53" x2="404" y2="322.53" stroke="#a3112f" stroke-width="1.5"/>
<line x1="401.47" y1="345.53" x2="401.47" y2="322.53" stroke="#a3112f" stroke-width="1.2"/>
<line x1="397.22" y1="345.53" x2="405.72" y2="345.53" stroke="#a3112f" stroke-width="1.5"/>
<line x1="397.22" y1="322.53" x2="405.72" y2="322.53" stroke="#a3112f" stroke-width="1.5"/>
<line x1="403.2" y1="352.51" x2="403.2" y2="322.53" stroke="#a3112f" stroke-width="1.2"/>
<line x1="398.95" y1="352.51" x2="407.45" y2="352.51" stroke="#a3112f" stroke-width="1.5"/>
<line x1="398.95" y1="322.53" x2="407.45" y2="322.53" stroke="#a3112f" stroke-width="1.5"/>
<line x1="404.92" y1="349.41" x2="404.92" y2="322.53" stroke="#a3112f" stroke-width="1.2"/>
<line x1="400.67" y1="349.41" x2="409.17" y2="349.41" stroke="#a3112f" stroke-width="1.5"/>
<line x1="400.67" y1="322.53" x2="409.17" y2="322.53" stroke="#a3112f" stroke-width="1.5"/>
<line x1="406.65" y1="361.33" x2="406.65" y2="326.65" stroke="#a3112f" stroke-width="1.2"/>
<line x1="402.4" y1="361.33" x2="410.9" y2="361.33" stroke="#a3112f" stroke-width="1.5"/>
<line x1="402.4" y1="326.65" x2="410.9" y2="326.65" stroke="#a3112f" stroke-width="1.5"/>
<line x1="408.38" y1="363.22" x2="408.38" y2="328.54" stroke="#a3112f" stroke-width="1.2"/>
<line x1="404.12" y1="363.22" x2="412.62" y2="363.22" stroke="#a3112f" stroke-width="1.5"/>
<line x1="404.12" y1="328.54" x2="412.62" y2="328.54" stroke="#a3112f" stroke-width="1.5"/>
<line x1="410.1" y1="366.31" x2="410.1" y2="331.63" stroke="#a3112f" stroke-width="1.2"/>
<line x1="405.85" y1="366.31" x2="414.35" y2="366.31" stroke="#a3112f" stroke-width="1.5"/>
<line x1="405.85" y1="331.63" x2="414.35" y2="331.63" stroke="#a3112f" stroke-width="1.5"/>
<line x1="411.82" y1="372.82" x2="411.82" y2="338.14" stroke="#a3112f" stroke-width="1.2"/>
<line x1="407.57" y1="372.82" x2="416.07" y2="372.82" stroke="#a3112f" stroke-width="1.5"/>
<line x1="407.57" y1="338.14" x2="416.07" y2="338.14" stroke="#a3112f" stroke-width="1.5"/>
<line x1="413.55" y1="367.31" x2="413.55" y2="332.63" stroke="#a3112f" stroke-width="1.2"/>
<line x1="409.3" y1="367.31" x2="417.8" y2="367.31" stroke="#a3112f" stroke-width="1.5"/>
<line x1="409.3" y1="332.63" x2="417.8" y2="332.63" stroke="#a3112f" stroke-width="1.5"/>
<line x1="415.27" y1="370.73" x2="415.27" y2="336.05" stroke="#a3112f" stroke-width="1.2"/>
<line x1="411.02" y1="370.73" x2="419.52" y2="370.73" stroke="#a3112f" stroke-width="1.5"/>
<line x1="411.02" y1="336.05" x2="419.52" y2="336.05" stroke="#a3112f" stroke-width="1.5"/>
<line x1="417" y1="367.52" x2="417" y2="332.84" stroke="#a3112f" stroke-width="1.2"/>
<line x1="412.75" y1="367.52" x2="421.25" y2="367.52" stroke="#a3112f" stroke-width="1.5"/>
<line x1="412.75" y1="332.84" x2="421.25" y2="332.84" stroke="#a3112f" stroke-width="1.5"/>
<line x1="418.72" y1="375.52" x2="418.72" y2="340.84" stroke="#a3112f" stroke-width="1.2"/>
<line x1="414.47" y1="375.52" x2="422.97" y2="375.52" stroke="#a3112f" stroke-width="1.5"/>
<line x1="414.47" y1="340.84" x2="422.97" y2="340.84" stroke="#a3112f" stroke-width="1.5"/>
<line x1="420.45" y1="375.42" x2="420.45" y2="340.74" stroke="#a3112f" stroke-width="1.2"/>
<line x1="416.2" y1="375.42" x2="424.7" y2="375.42" stroke="#a3112f" stroke-width="1.5"/>
<line x1="416.2" y1="340.74" x2="424.7" y2="340.74" stroke="#a3112f" stroke-width="1.5"/>
<line x1="422.17" y1="374.6" x2="422.17" y2="339.92" stroke="#a3112f" stroke-width="1.2"/>
<line x1="417.92" y1="374.6" x2="426.42" y2="374.6" stroke="#a3112f" stroke-width="1.5"/>
<line x1="417.92" y1="339.92" x2="426.42" y2="339.92" stroke="#a3112f" stroke-width="1.5"/>
<line x1="423.9" y1="374.51" x2="423.9" y2="339.83" stroke="#a3112f" stroke-width="1.2"/>
<line x1="419.65" y1="374.51" x2="428.15" y2="374.51" stroke="#a3112f" stroke-width="1.5"/>
<line x1="419.65" y1="339.83" x2="428.15" y2="339.83" stroke="#a3112f" stroke-width="1.5"/>
<line x1="425.62" y1="373.12" x2="425.62" y2="338.44" stroke="#a3112f" stroke-width="1.2"/>
<line x1="421.38" y1="373.12" x2="429.88" y2="373.12" stroke="#a3112f" stroke-width="1.5"/>
<line x1="421.38" y1="338.44" x2="429.88" y2="338.44" stroke="#a3112f" stroke-width="1.5"/>
<line x1="427.35" y1="381.71" x2="427.35" y2="347.03" stroke="#a3112f" stroke-width="1.2"/>
<line x1="423.1" y1="381.71" x2="431.6" y2="381.71" stroke="#a3112f" stroke-width="1.5"/>
<line x1="423.1" y1="347.03" x2="431.6" y2="347.03" stroke="#a3112f" stroke-width="1.5"/>
<line x1="429.07" y1="378.73" x2="429.07" y2="344.05" stroke="#a3112f" stroke-width="1.2"/>
<line x1="424.82" y1="378.73" x2="433.32" y2="378.73" stroke="#a3112f" stroke-width="1.5"/>
<line x1="424.82" y1="344.05" x2="433.32" y2="344.05" stroke="#a3112f" stroke-width="1.5"/>
<line x1="430.8" y1="382.11" x2="430.8" y2="347.43" stroke="#a3112f" stroke-width="1.2"/>
<line x1="426.55" y1="382.11" x2="435.05" y2="382.11" stroke="#a3112f" stroke-width="1.5"/>
<line x1="426.55" y1="347.43" x2="435.05" y2="347.43" stroke="#a3112f" stroke-width="1.5"/>
<line x1="432.52" y1="376.44" x2="432.52" y2="341.76" stroke="#a3112f" stroke-width="1.2"/>
<line x1="428.27" y1="376.44" x2="436.77" y2="376.44" stroke="#a3112f" stroke-width="1.5"/>
<line x1="428.27" y1="341.76" x2="436.77" y2="341.76" stroke="#a3112f" stroke-width="1.5"/>
<line x1="434.25" y1="380.82" x2="434.25" y2="346.14" stroke="#a3112f" stroke-width="1.2"/>
<line x1="430" y1="380.82" x2="438.5" y2="380.82" stroke="#a3112f" stroke-width="1.5"/>
<line x1="430" y1="346.14" x2="438.5" y2="346.14" stroke="#a3112f" stroke-width="1.5"/>
<line x1="435.97" y1="383.97" x2="435.97" y2="349.29" stroke="#a3112f" stroke-width="1.2"/>
<line x1="431.72" y1="383.97" x2="440.22" y2="383.97" stroke="#a3112f" stroke-width="1.5"/>
<line x1="431.72" y1="349.29" x2="440.22" y2="349.29" stroke="#a3112f" stroke-width="1.5"/>
<line x1="437.7" y1="384.08" x2="437.7" y2="349.4" stroke="#a3112f" stroke-width="1.2"/>
<line x1="433.45" y1="384.08" x2="441.95" y2="384.08" stroke="#a3112f" stroke-width="1.5"/>
<line x1="433.45" y1="349.4" x2="441.95" y2="349.4" stroke="#a3112f" stroke-width="1.5"/>
<line x1="439.42" y1="385.07" x2="439.42" y2="350.39" stroke="#a3112f" stroke-width="1.2"/>
<line x1="435.17" y1="385.07" x2="443.67" y2="385.07" stroke="#a3112f" stroke-width="1.5"/>
<line x1="435.17" y1="350.39" x2="443.67" y2="350.39" stroke="#a3112f" stroke-width="1.5"/>
<line x1="441.15" y1="378.83" x2="441.15" y2="344.15" stroke="#a3112f" stroke-width="1.2"/>
<line x1="436.9" y1="378.83" x2="445.4" y2="378.83" stroke="#a3112f" stroke-width="1.5"/>
<line x1="436.9" y1="344.15" x2="445.4" y2="344.15" stroke="#a3112f" stroke-width="1.5"/>
<line x1="442.87" y1="388.42" x2="442.87" y2="354.9" stroke="#a3112f" stroke-width="1.2"/>
<line x1="438.62" y1="388.42" x2="447.12" y2="388.42" stroke="#a3112f" stroke-width="1.5"/>
<line x1="438.62" y1="354.9" x2="447.12" y2="354.9" stroke="#a3112f" stroke-width="1.5"/>
<line x1="444.6" y1="388.42" x2="444.6" y2="354.9" stroke="#a3112f" stroke-width="1.2"/>
<line x1="440.35" y1="388.42" x2="448.85" y2="388.42" stroke="#a3112f" stroke-width="1.5"/>
<line x1="440.35" y1="354.9" x2="448.85" y2="354.9" stroke="#a3112f" stroke-width="1.5"/>
<line x1="446.32" y1="388.42" x2="446.32" y2="354.9" stroke="#a3112f" stroke-width="1.2"/>
<line x1="442.07" y1="388.42" x2="450.57" y2="388.42" stroke="#a3112f" stroke-width="1.5"/>
<line x1="442.07" y1="354.9" x2="450.57" y2="354.9" stroke="#a3112f" stroke-width="1.5"/>
<line x1="448.05" y1="388.42" x2="448.05" y2="354.9" stroke="#a3112f" stroke-width="1.2"/>
<line x1="443.8" y1="388.42" x2="452.3" y2="388.42" stroke="#a3112f" stroke-width="1.5"/>
<line x1="443.8" y1="354.9" x2="452.3" y2="354.9" stroke="#a3112f" stroke-width="1.5"/>
<line x1="450.92" y1="388.42" x2="450.92" y2="354.9" stroke="#a3112f" stroke-width="1.2"/>
<line x1="446.67" y1="388.42" x2="455.17" y2="388.42" stroke="#a3112f" stroke-width="1.5"/>
<line x1="446.67" y1="354.9" x2="455.17" y2="354.9" stroke="#a3112f" stroke-width="1.5"/>
<line x1="453.8" y1="388.42" x2="453.8" y2="354.9" stroke="#a3112f" stroke-width="1.2"/>
<line x1="449.55" y1="388.42" x2="458.05" y2="388.42" stroke="#a3112f" stroke-width="1.5"/>
<line x1="449.55" y1="354.9" x2="458.05" y2="354.9" stroke="#a3112f" stroke-width="1.5"/>
<line x1="456.67" y1="388.42" x2="456.67" y2="354.9" stroke="#a3112f" stroke-width="1.2"/>
<line x1="452.42" y1="388.42" x2="460.92" y2="388.42" stroke="#a3112f" stroke-width="1.5"/>
<line x1="452.42" y1="354.9" x2="460.92" y2="354.9" stroke="#a3112f" stroke-width="1.5"/>
<line x1="459.55" y1="388.42" x2="459.55" y2="354.9" stroke="#a3112f" stroke-width="1.2"/>
<line x1="455.3" y1="388.42" x2="463.8" y2="388.42" stroke="#a3112f" stroke-width="1.5"/>
<line x1="455.3" y1="354.9" x2="463.8" y2="354.9" stroke="#a3112f" stroke-width="1.5"/>
<line x1="462.42" y1="388.42" x2="462.42" y2="354.9" stroke="#a3112f" stroke-width="1.2"/>
<line x1="458.17" y1="388.42" x2="466.67" y2="388.42" stroke="#a3112f" stroke-width="1.5"/>
<line x1="458.17" y1="354.9" x2="466.67" y2="354.9" stroke="#a3112f" stroke-width="1.5"/>
<line x1="465.3" y1="391.31" x2="465.3" y2="334.09" stroke="#a3112f" stroke-width="1.2"/>
<line x1="461.05" y1="391.31" x2="469.55" y2="391.31" stroke="#a3112f" stroke-width="1.5"/>
<line x1="461.05" y1="334.09" x2="469.55" y2="334.09" stroke="#a3112f" stroke-width="1.5"/>
<line x1="468.17" y1="391.31" x2="468.17" y2="334.09" stroke="#a3112f" stroke-width="1.2"/>
<line x1="463.92" y1="391.31" x2="472.42" y2="391.31" stroke="#a3112f" stroke-width="1.5"/>
<line x1="463.92" y1="334.09" x2="472.42" y2="334.09" stroke="#a3112f" stroke-width="1.5"/>
<line x1="471.05" y1="391.31" x2="471.05" y2="334.09" stroke="#a3112f" stroke-width="1.2"/>
<line x1="466.8" y1="391.31" x2="475.3" y2="391.31" stroke="#a3112f" stroke-width="1.5"/>
<line x1="466.8" y1="334.09" x2="475.3" y2="334.09" stroke="#a3112f" stroke-width="1.5"/>
<line x1="473.92" y1="391.31" x2="473.92" y2="334.09" stroke="#a3112f" stroke-width="1.2"/>
<line x1="469.67" y1="391.31" x2="478.17" y2="391.31" stroke="#a3112f" stroke-width="1.5"/>
<line x1="469.67" y1="334.09" x2="478.17" y2="334.09" stroke="#a3112f" stroke-width="1.5"/>
<line x1="476.8" y1="391.31" x2="476.8" y2="334.09" stroke="#a3112f" stroke-width="1.2"/>
<line x1="472.55" y1="391.31" x2="481.05" y2="391.31" stroke="#a3112f" stroke-width="1.5"/>
<line x1="472.55" y1="334.09" x2="481.05" y2="334.09" stroke="#a3112f" stroke-width="1.5"/>
<line x1="479.67" y1="391.31" x2="479.67" y2="334.09" stroke="#a3112f" stroke-width="1.2"/>
<line x1="475.42" y1="391.31" x2="483.92" y2="391.31" stroke="#a3112f" stroke-width="1.5"/>
<line x1="475.42" y1="334.09" x2="483.92" y2="334.09" stroke="#a3112f" stroke-width="1.5"/>
<line x1="482.55" y1="391.31" x2="482.55" y2="334.09" stroke="#a3112f" stroke-width="1.2"/>
<line x1="478.3" y1="391.31" x2="486.8" y2="391.31" stroke="#a3112f" stroke-width="1.5"/>
<line x1="478.3" y1="334.09" x2="486.8" y2="334.09" stroke="#a3112f" stroke-width="1.5"/>
<line x1="485.42" y1="391.31" x2="485.42" y2="334.09" stroke="#a3112f" stroke-width="1.2"/>
<line x1="481.17" y1="391.31" x2="489.67" y2="391.31" stroke="#a3112f" stroke-width="1.5"/>
<line x1="481.17" y1="334.09" x2="489.67" y2="334.09" stroke="#a3112f" stroke-width="1.5"/>
<line x1="488.3" y1="391.31" x2="488.3" y2="334.09" stroke="#a3112f" stroke-width="1.2"/>
<line x1="484.05" y1="391.31" x2="492.55" y2="391.31" stroke="#a3112f" stroke-width="1.5"/>
<line x1="484.05" y1="334.09" x2="492.55" y2="334.09" stroke="#a3112f" stroke-width="1.5"/>
<line x1="491.17" y1="391.31" x2="491.17" y2="334.09" stroke="#a3112f" stroke-width="1.2"/>
<line x1="486.92" y1="391.31" x2="495.42" y2="391.31" stroke="#a3112f" stroke-width="1.5"/>
<line x1="486.92" y1="334.09" x2="495.42" y2="334.09" stroke="#a3112f" stroke-width="1.5"/>
<line x1="494.05" y1="391.31" x2="494.05" y2="334.09" stroke="#a3112f" stroke-width="1.2"/>
<line x1="489.8" y1="391.31" x2="498.3" y2="391.31" stroke="#a3112f" stroke-width="1.5"/>
<line x1="489.8" y1="334.09" x2="498.3" y2="334.09" stroke="#a3112f" stroke-width="1.5"/>
<line x1="496.92" y1="391.31" x2="496.92" y2="334.09" stroke="#a3112f" stroke-width="1.2"/>
<line x1="492.67" y1="391.31" x2="501.17" y2="391.31" stroke="#a3112f" stroke-width="1.5"/>
<line x1="492.67" y1="334.09" x2="501.17" y2="334.09" stroke="#a3112f" stroke-width="1.5"/>
<line x1="499.8" y1="391.31" x2="499.8" y2="334.09" stroke="#a3112f" stroke-width="1.2"/>
<line x1="495.55" y1="391.31" x2="504.05" y2="391.31" stroke="#a3112f" stroke-width="1.5"/>
<line x1="495.55" y1="334.09" x2="504.05" y2="334.09" stroke="#a3112f" stroke-width="1.5"/>
<line x1="502.67" y1="391.31" x2="502.67" y2="334.09" stroke="#a3112f" stroke-width="1.2"/>
<line x1="498.42" y1="391.31" x2="506.92" y2="391.31" stroke="#a3112f" stroke-width="1.5"/>
<line x1="498.42" y1="334.09" x2="506.92" y2="334.09" stroke="#a3112f" stroke-width="1.5"/>
<polyline points="331.9,454.31 337.65,451.23 340.52,445.57 343.4,444.49 346.27,444.49 349.15,444.49 352.02,444.49 354.9,444.49 357.77,444.63 360.65,444.77 363.52,444.92 366.4,445.06 369.27,444.82 372.15,444.58 375.02,443.04 376.75,441.6 379.05,432.93 381.81,409.81 385.72,365.88 387.67,335.82 389.4,334.67 391.12,334.84 392.85,335.37 394.57,337.3 396.3,337.06 398.02,330.24 399.75,334.74 401.47,332.24 403.2,339.22 404.92,336.12 406.65,338.21 408.38,340.1 410.1,343.19 411.82,349.7 413.55,344.19 415.27,347.61 417,344.4 418.72,352.4 420.45,352.3 422.17,351.48 423.9,351.39 425.62,350 427.35,358.59 429.07,355.61 430.8,358.99 432.52,353.32 434.25,357.7 435.97,360.85 437.7,360.96 439.42,361.95 441.15,355.71 442.53,386.69 442.87,362.25 444.6,360.7 446.32,365.89 448.05,361.15 450.92,360.39 453.8,361.6 456.67,361.41 459.55,364.22 462.42,360.77 465.3,363.24 468.17,362.56 471.05,366.43 473.92,366.13 476.8,364.22 479.67,364.76 482.55,363.35 485.42,367.47 488.3,364.32 491.17,364.57 494.05,361.43 496.92,363.03 499.8,364.86 502.67,363.28" fill="none" stroke="#a30a2e" stroke-width="2.2" stroke-linejoin="round" stroke-linecap="round"/>
<circle cx="331.9" cy="454.31" r="4.2" fill="#a8002b"/>
<circle cx="337.65" cy="451.23" r="4.2" fill="#a8002b"/>
<circle cx="340.52" cy="445.57" r="4.2" fill="#a8002b"/>
<circle cx="343.4" cy="444.49" r="4.2" fill="#a8002b"/>
<circle cx="346.27" cy="444.49" r="4.2" fill="#a8002b"/>
<circle cx="349.15" cy="444.49" r="4.2" fill="#a8002b"/>
<circle cx="352.02" cy="444.49" r="4.2" fill="#a8002b"/>
<circle cx="354.9" cy="444.49" r="4.2" fill="#a8002b"/>
<circle cx="357.77" cy="444.63" r="4.2" fill="#a8002b"/>
<circle cx="360.65" cy="444.77" r="4.2" fill="#a8002b"/>
<circle cx="363.52" cy="444.92" r="4.2" fill="#a8002b"/>
<circle cx="366.4" cy="445.06" r="4.2" fill="#a8002b"/>
<circle cx="369.27" cy="444.82" r="4.2" fill="#a8002b"/>
<circle cx="372.15" cy="444.58" r="4.2" fill="#a8002b"/>
<circle cx="375.02" cy="443.04" r="4.2" fill="#a8002b"/>
<circle cx="376.75" cy="441.6" r="4.2" fill="#a8002b"/>
<circle cx="379.05" cy="432.93" r="4.2" fill="#a8002b"/>
<circle cx="381.81" cy="409.81" r="4.2" fill="#a8002b"/>
<circle cx="385.72" cy="365.88" r="4.2" fill="#a8002b"/>
<circle cx="387.67" cy="335.82" r="4.2" fill="#a8002b"/>
<circle cx="389.4" cy="334.67" r="4.2" fill="#a8002b"/>
<circle cx="391.12" cy="334.84" r="4.2" fill="#a8002b"/>
<circle cx="392.85" cy="335.37" r="4.2" fill="#a8002b"/>
<circle cx="394.57" cy="337.3" r="4.2" fill="#a8002b"/>
<circle cx="396.3" cy="337.06" r="4.2" fill="#a8002b"/>
<circle cx="398.02" cy="330.24" r="4.2" fill="#a8002b"/>
<circle cx="399.75" cy="334.74" r="4.2" fill="#a8002b"/>
<circle cx="401.47" cy="332.24" r="4.2" fill="#a8002b"/>
<circle cx="403.2" cy="339.22" r="4.2" fill="#a8002b"/>
<circle cx="404.92" cy="336.12" r="4.2" fill="#a8002b"/>
<circle cx="406.65" cy="338.21" r="4.2" fill="#a8002b"/>
<circle cx="408.38" cy="340.1" r="4.2" fill="#a8002b"/>
<circle cx="410.1" cy="343.19" r="4.2" fill="#a8002b"/>
<circle cx="411.82" cy="349.7" r="4.2" fill="#a8002b"/>
<circle cx="413.55" cy="344.19" r="4.2" fill="#a8002b"/>
<circle cx="415.27" cy="347.61" r="4.2" fill="#a8002b"/>
<circle cx="417" cy="344.4" r="4.2" fill="#a8002b"/>
<circle cx="418.72" cy="352.4" r="4.2" fill="#a8002b"/>
<circle cx="420.45" cy="352.3" r="4.2" fill="#a8002b"/>
<circle cx="422.17" cy="351.48" r="4.2" fill="#a8002b"/>
<circle cx="423.9" cy="351.39" r="4.2" fill="#a8002b"/>
<circle cx="425.62" cy="350" r="4.2" fill="#a8002b"/>
<circle cx="427.35" cy="358.59" r="4.2" fill="#a8002b"/>
<circle cx="429.07" cy="355.61" r="4.2" fill="#a8002b"/>
<circle cx="430.8" cy="358.99" r="4.2" fill="#a8002b"/>
<circle cx="432.52" cy="353.32" r="4.2" fill="#a8002b"/>
<circle cx="434.25" cy="357.7" r="4.2" fill="#a8002b"/>
<circle cx="435.97" cy="360.85" r="4.2" fill="#a8002b"/>
<circle cx="437.7" cy="360.96" r="4.2" fill="#a8002b"/>
<circle cx="439.42" cy="361.95" r="4.2" fill="#a8002b"/>
<circle cx="441.15" cy="355.71" r="4.2" fill="#a8002b"/>
<circle cx="442.53" cy="386.69" r="4.2" fill="#a8002b"/>
<circle cx="442.87" cy="362.25" r="4.2" fill="#a8002b"/>
<circle cx="444.6" cy="360.7" r="4.2" fill="#a8002b"/>
<circle cx="446.32" cy="365.89" r="4.2" fill="#a8002b"/>
<circle cx="448.05" cy="361.15" r="4.2" fill="#a8002b"/>
<circle cx="450.92" cy="360.39" r="4.2" fill="#a8002b"/>
<circle cx="453.8" cy="361.6" r="4.2" fill="#a8002b"/>
<circle cx="456.67" cy="361.41" r="4.2" fill="#a8002b"/>
<circle cx="459.55" cy="364.22" r="4.2" fill="#a8002b"/>
<circle cx="462.42" cy="360.77" r="4.2" fill="#a8002b"/>
<circle cx="465.3" cy="363.24" r="4.2" fill="#a8002b"/>
<circle cx="468.17" cy="362.56" r="4.2" fill="#a8002b"/>
<circle cx="471.05" cy="366.43" r="4.2" fill="#a8002b"/>
<circle cx="473.92" cy="366.13" r="4.2" fill="#a8002b"/>
<circle cx="476.8" cy="364.22" r="4.2" fill="#a8002b"/>
<circle cx="479.67" cy="364.76" r="4.2" fill="#a8002b"/>
<circle cx="482.55" cy="363.35" r="4.2" fill="#a8002b"/>
<circle cx="485.42" cy="367.47" r="4.2" fill="#a8002b"/>
<circle cx="488.3" cy="364.32" r="4.2" fill="#a8002b"/>
<circle cx="491.17" cy="364.57" r="4.2" fill="#a8002b"/>
<circle cx="494.05" cy="361.43" r="4.2" fill="#a8002b"/>
<circle cx="496.92" cy="363.03" r="4.2" fill="#a8002b"/>
<circle cx="499.8" cy="364.86" r="4.2" fill="#a8002b"/>
<circle cx="502.67" cy="363.28" r="4.2" fill="#a8002b"/>
<line x1="400.9" y1="448.92" x2="400.9" y2="444.29" stroke="#72a65a" stroke-width="1"/>
<line x1="397.4" y1="448.92" x2="404.4" y2="448.92" stroke="#72a65a" stroke-width="1.3"/>
<line x1="403.77" y1="443.52" x2="403.77" y2="438.9" stroke="#72a65a" stroke-width="1"/>
<line x1="400.27" y1="443.52" x2="407.27" y2="443.52" stroke="#72a65a" stroke-width="1.3"/>
<line x1="406.65" y1="435.82" x2="406.65" y2="431.19" stroke="#72a65a" stroke-width="1"/>
<line x1="403.15" y1="435.82" x2="410.15" y2="435.82" stroke="#72a65a" stroke-width="1.3"/>
<line x1="409.52" y1="430.52" x2="409.52" y2="425.89" stroke="#72a65a" stroke-width="1"/>
<line x1="406.02" y1="430.52" x2="413.02" y2="430.52" stroke="#72a65a" stroke-width="1.3"/>
<line x1="412.4" y1="426.57" x2="412.4" y2="421.94" stroke="#72a65a" stroke-width="1"/>
<line x1="408.9" y1="426.57" x2="415.9" y2="426.57" stroke="#72a65a" stroke-width="1.3"/>
<polyline points="331.9,447.6 334.77,448.43 337.65,447.74 340.52,449.71 343.4,448.03 346.27,448.02 349.15,447.37 352.02,447.95 354.9,449.11 357.77,447.71 360.65,448.28 363.52,446.84 366.4,448.98 369.27,448.66 372.15,448.77 375.02,448.06 377.9,447.51 380.77,449.34 383.65,448.54 386.52,449.47 389.4,447.35 392.27,448.36 395.15,448.63 398.02,447.96 400.9,444.29 403.77,438.9 406.65,431.19 409.52,425.89 412.4,421.94 415.27,420.07 418.15,421.27 421.02,422.9 423.9,424.49 426.77,425.62 429.65,426.44 432.52,427.26 435.4,428.08 438.27,428.9 441.15,429.73 444.02,430.55 446.9,430.96 449.77,431.33 452.65,431.71 455.52,432.08 458.4,432.46 461.27,432.83 464.15,433.2 467.02,433.54 469.9,433.74 472.77,433.95 475.65,434.15 478.52,434.35 481.4,434.55 484.27,434.75 487.15,434.95 490.02,435.14 492.9,435.33 495.77,435.53 498.65,435.72 501.52,435.91 504.4,436.11" fill="none" stroke="#64a843" stroke-width="2.2" stroke-linejoin="round" stroke-linecap="round"/>
<circle cx="331.9" cy="447.6" r="4.7" fill="#6bb341"/>
<circle cx="334.77" cy="448.43" r="4.7" fill="#6bb341"/>
<circle cx="337.65" cy="447.74" r="4.7" fill="#6bb341"/>
<circle cx="340.52" cy="449.71" r="4.7" fill="#6bb341"/>
<circle cx="343.4" cy="448.03" r="4.7" fill="#6bb341"/>
<circle cx="346.27" cy="448.02" r="4.7" fill="#6bb341"/>
<circle cx="349.15" cy="447.37" r="4.7" fill="#6bb341"/>
<circle cx="352.02" cy="447.95" r="4.7" fill="#6bb341"/>
<circle cx="354.9" cy="449.11" r="4.7" fill="#6bb341"/>
<circle cx="357.77" cy="447.71" r="4.7" fill="#6bb341"/>
<circle cx="360.65" cy="448.28" r="4.7" fill="#6bb341"/>
<circle cx="363.52" cy="446.84" r="4.7" fill="#6bb341"/>
<circle cx="366.4" cy="448.98" r="4.7" fill="#6bb341"/>
<circle cx="369.27" cy="448.66" r="4.7" fill="#6bb341"/>
<circle cx="372.15" cy="448.77" r="4.7" fill="#6bb341"/>
<circle cx="375.02" cy="448.06" r="4.7" fill="#6bb341"/>
<circle cx="377.9" cy="447.51" r="4.7" fill="#6bb341"/>
<circle cx="380.77" cy="449.34" r="4.7" fill="#6bb341"/>
<circle cx="383.65" cy="448.54" r="4.7" fill="#6bb341"/>
<circle cx="386.52" cy="449.47" r="4.7" fill="#6bb341"/>
<circle cx="389.4" cy="447.35" r="4.7" fill="#6bb341"/>
<circle cx="392.27" cy="448.36" r="4.7" fill="#6bb341"/>
<circle cx="395.15" cy="448.63" r="4.7" fill="#6bb341"/>
<circle cx="398.02" cy="447.96" r="4.7" fill="#6bb341"/>
<circle cx="400.9" cy="444.29" r="4.7" fill="#6bb341"/>
<circle cx="403.77" cy="438.9" r="4.7" fill="#6bb341"/>
<circle cx="406.65" cy="431.19" r="4.7" fill="#6bb341"/>
<circle cx="409.52" cy="425.89" r="4.7" fill="#6bb341"/>
<circle cx="412.4" cy="421.94" r="4.7" fill="#6bb341"/>
<circle cx="415.27" cy="420.07" r="4.7" fill="#6bb341"/>
<circle cx="418.15" cy="421.27" r="4.7" fill="#6bb341"/>
<circle cx="421.02" cy="422.9" r="4.7" fill="#6bb341"/>
<circle cx="423.9" cy="424.49" r="4.7" fill="#6bb341"/>
<circle cx="426.77" cy="425.62" r="4.7" fill="#6bb341"/>
<circle cx="429.65" cy="426.44" r="4.7" fill="#6bb341"/>
<circle cx="432.52" cy="427.26" r="4.7" fill="#6bb341"/>
<circle cx="435.4" cy="428.08" r="4.7" fill="#6bb341"/>
<circle cx="438.27" cy="428.9" r="4.7" fill="#6bb341"/>
<circle cx="441.15" cy="429.73" r="4.7" fill="#6bb341"/>
<circle cx="444.02" cy="430.55" r="4.7" fill="#6bb341"/>
<circle cx="446.9" cy="430.96" r="4.7" fill="#6bb341"/>
<circle cx="449.77" cy="431.33" r="4.7" fill="#6bb341"/>
<circle cx="452.65" cy="431.71" r="4.7" fill="#6bb341"/>
<circle cx="455.52" cy="432.08" r="4.7" fill="#6bb341"/>
<circle cx="458.4" cy="432.46" r="4.7" fill="#6bb341"/>
<circle cx="461.27" cy="432.83" r="4.7" fill="#6bb341"/>
<circle cx="464.15" cy="433.2" r="4.7" fill="#6bb341"/>
<circle cx="467.02" cy="433.54" r="4.7" fill="#6bb341"/>
<circle cx="469.9" cy="433.74" r="4.7" fill="#6bb341"/>
<circle cx="472.77" cy="433.95" r="4.7" fill="#6bb341"/>
<circle cx="475.65" cy="434.15" r="4.7" fill="#6bb341"/>
<circle cx="478.52" cy="434.35" r="4.7" fill="#6bb341"/>
<circle cx="481.4" cy="434.55" r="4.7" fill="#6bb341"/>
<circle cx="484.27" cy="434.75" r="4.7" fill="#6bb341"/>
<circle cx="487.15" cy="434.95" r="4.7" fill="#6bb341"/>
<circle cx="490.02" cy="435.14" r="4.7" fill="#6bb341"/>
<circle cx="492.9" cy="435.33" r="4.7" fill="#6bb341"/>
<circle cx="495.77" cy="435.53" r="4.7" fill="#6bb341"/>
<circle cx="498.65" cy="435.72" r="4.7" fill="#6bb341"/>
<circle cx="501.52" cy="435.91" r="4.7" fill="#6bb341"/>
<circle cx="504.4" cy="436.11" r="4.7" fill="#6bb341"/>
<rect x="0.85" y="0.85" width="518.3" height="537.3" fill="none" stroke="#000" stroke-width="1.7"/>
</svg>
</body></html>
